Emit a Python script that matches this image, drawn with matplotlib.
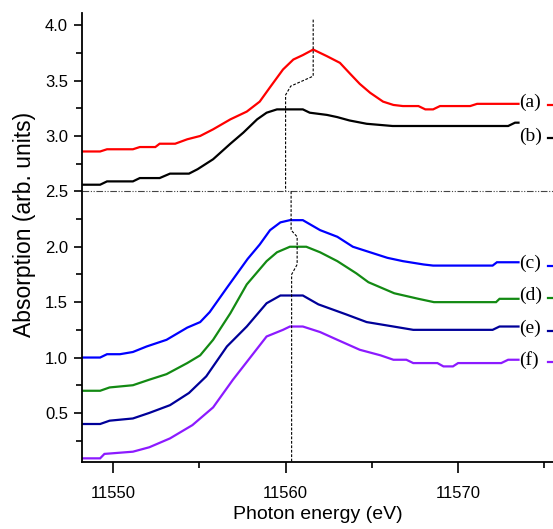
import numpy as np
import matplotlib
matplotlib.use("Agg")
import matplotlib.pyplot as plt
from matplotlib.ticker import MultipleLocator, FormatStrFormatter

# spectra (photon energy in eV, absorption)
e_a = [11548.2, 11549.25, 11549.65, 11551.15, 11551.55, 11552.45, 11552.7, 11553.6, 11554.3, 11555.05,
       11555.8, 11556.8, 11557.75, 11558.5, 11559.1, 11559.85, 11560.45, 11561.0, 11561.6, 11562.4,
       11563.15, 11563.75, 11564.3, 11564.9, 11565.65, 11566.25, 11566.8, 11567.7, 11568.1, 11568.55,
       11568.95, 11570.7, 11571.1, 11573.5]
a = [2.86, 2.86, 2.88, 2.88, 2.90, 2.90, 2.93, 2.93, 2.97, 3.00,
     3.06, 3.15, 3.22, 3.31, 3.44, 3.60, 3.69, 3.73, 3.78, 3.72,
     3.66, 3.56, 3.47, 3.39, 3.31, 3.28, 3.27, 3.27, 3.24, 3.24,
     3.27, 3.27, 3.29, 3.29]

e_b = [11548.2, 11549.25, 11549.65, 11551.15, 11551.55, 11552.7, 11553.3, 11554.4, 11554.9, 11555.8,
       11556.8, 11557.55, 11558.35, 11558.9, 11559.5, 11561.0, 11561.4, 11562.4, 11563.0, 11563.7,
       11564.7, 11566.2, 11572.9, 11573.3, 11573.5]
b = [2.56, 2.56, 2.59, 2.59, 2.62, 2.62, 2.66, 2.66, 2.70, 2.79,
     2.93, 3.03, 3.15, 3.21, 3.24, 3.24, 3.21, 3.19, 3.17, 3.14,
     3.11, 3.09, 3.09, 3.12, 3.12]

e_c = [11548.2, 11549.25, 11549.65, 11550.4, 11551.15, 11551.95, 11553.1, 11554.3, 11555.05, 11555.6,
       11556.1, 11556.6, 11557.2, 11557.8, 11558.5, 11559.1, 11559.7, 11560.25, 11561.0, 11562.0,
       11563.0, 11563.9, 11564.9, 11565.9, 11566.8, 11568.0, 11568.55, 11572.0, 11572.25, 11573.5]
c = [1.00, 1.00, 1.03, 1.03, 1.05, 1.10, 1.16, 1.27, 1.32, 1.41,
     1.52, 1.63, 1.76, 1.89, 2.02, 2.15, 2.22, 2.24, 2.24, 2.15,
     2.09, 2.00, 1.95, 1.90, 1.87, 1.84, 1.83, 1.83, 1.86, 1.86]

e_d = [11548.2, 11549.25, 11549.8, 11551.15, 11552.1, 11553.1, 11554.3, 11555.05, 11555.8, 11556.8,
       11557.75, 11558.9, 11559.5, 11560.25, 11561.2, 11562.0, 11563.0, 11564.1, 11564.8, 11566.3,
       11567.7, 11568.6, 11572.2, 11572.4, 11573.5]
d = [0.70, 0.70, 0.73, 0.75, 0.80, 0.85, 0.95, 1.02, 1.16, 1.40,
     1.66, 1.87, 1.95, 2.00, 2.00, 1.95, 1.87, 1.76, 1.68, 1.58,
     1.53, 1.50, 1.50, 1.53, 1.53]

e_e = [11548.2, 11549.25, 11549.8, 11551.15, 11552.1, 11553.3, 11554.4, 11555.4, 11556.6, 11557.75,
       11558.9, 11559.7, 11561.0, 11561.9, 11563.5, 11564.7, 11566.25, 11567.4, 11572.0, 11572.4,
       11573.5]
e = [0.40, 0.40, 0.43, 0.45, 0.50, 0.57, 0.68, 0.83, 1.10, 1.28,
     1.49, 1.56, 1.56, 1.48, 1.39, 1.32, 1.28, 1.25, 1.25, 1.28,
     1.28]

e_f = [11548.2, 11549.25, 11549.5, 11551.15, 11552.1, 11553.3, 11554.6, 11555.8, 11556.95, 11557.95,
       11558.9, 11559.85, 11560.25, 11561.0, 11562.0, 11563.0, 11564.3, 11565.5, 11566.25, 11567.0,
       11567.4, 11568.8, 11569.15, 11569.7, 11570.0, 11572.5, 11572.9, 11573.5]
f = [0.09, 0.09, 0.13, 0.15, 0.19, 0.27, 0.39, 0.55, 0.80, 1.00,
     1.19, 1.25, 1.28, 1.28, 1.23, 1.16, 1.07, 1.02, 0.98, 0.98,
     0.95, 0.95, 0.92, 0.92, 0.95, 0.95, 0.98, 0.98]

labels = ["(a)", "(b)", "(c)", "(d)", "(e)", "(f)"]
label_y = [3.30, 3.00, 1.85, 1.56, 1.26, 0.98]
colors = ["#ff0000", "#000000", "#0000ff", "#138a13", "#000099", "#8c1aff"]

# guide lines through the edge positions
guide_top_x = [11561.6, 11561.6, 11560.3, 11560.0, 11560.0]
guide_top_y = [4.05, 3.54, 3.45, 3.37, 2.5]
guide_bot_x = [11560.32, 11560.32, 11560.67, 11560.67, 11560.35, 11560.35]
guide_bot_y = [2.5, 2.15, 2.09, 1.84, 1.75, 0.0]
split_y = 2.5

fig = plt.figure(figsize=(5.53, 5.29), dpi=100)
ax = fig.add_axes([82/553, 67/529, 1 - 82/553, (462-13)/529])

series = [(e_a, a), (e_b, b), (e_c, c), (e_d, d), (e_e, e), (e_f, f)]
for (xs, ys), col in zip(series, colors):
    ax.plot(xs, ys, color=col, lw=1.6, solid_joinstyle="miter")

for lab, ly, col in zip(labels, label_y, colors):
    ax.text(11573.55, ly, lab, family="Liberation Serif", fontsize=14,
            va="center", ha="left")
    ax.plot([11575.2, 11576.0], [ly - 0.02, ly - 0.02], color=col, lw=1.6)

ax.axhline(split_y, color="#444444", lw=0.8, dashes=(6, 1.5, 1, 1.5, 1, 1.5))
ax.plot(guide_top_x, guide_top_y, color="black", lw=0.8, dashes=(2.5, 1.5))
ax.plot(guide_bot_x, guide_bot_y, color="black", lw=0.8, dashes=(2.5, 1.5))

ax.set_xlim(11548.2, 11575.5)
ax.set_ylim(0.057, 4.11)

ax.spines["top"].set_visible(False)
ax.spines["right"].set_visible(False)
for s in ("left", "bottom"):
    ax.spines[s].set_linewidth(1.3)

ax.xaxis.set_major_locator(MultipleLocator(10))
ax.xaxis.set_minor_locator(MultipleLocator(5))
ax.yaxis.set_major_locator(MultipleLocator(0.5))
ax.yaxis.set_minor_locator(MultipleLocator(0.25))
ax.yaxis.set_major_formatter(FormatStrFormatter("%.1f"))
ax.xaxis.set_major_formatter(FormatStrFormatter("%d"))
ax.tick_params(which="major", length=6, width=1.2, labelsize=12, pad=4)
ax.tick_params(which="minor", length=4, width=1.2)
ax.tick_params(axis="x", which="major", length=8, pad=9)
for t in ax.get_xticklabels() + ax.get_yticklabels():
    t.set_family("Liberation Sans")

ax.set_xlabel("Photon energy (eV)", family="Liberation Sans", fontsize=14)
ax.xaxis.set_label_coords(0.5, -0.098)
ax.set_ylabel("Absorption (arb. units)", family="Liberation Sans", fontsize=16.5)
ax.yaxis.set_label_coords(-0.097, 0.53)

fig.savefig("out.png", dpi=100)
